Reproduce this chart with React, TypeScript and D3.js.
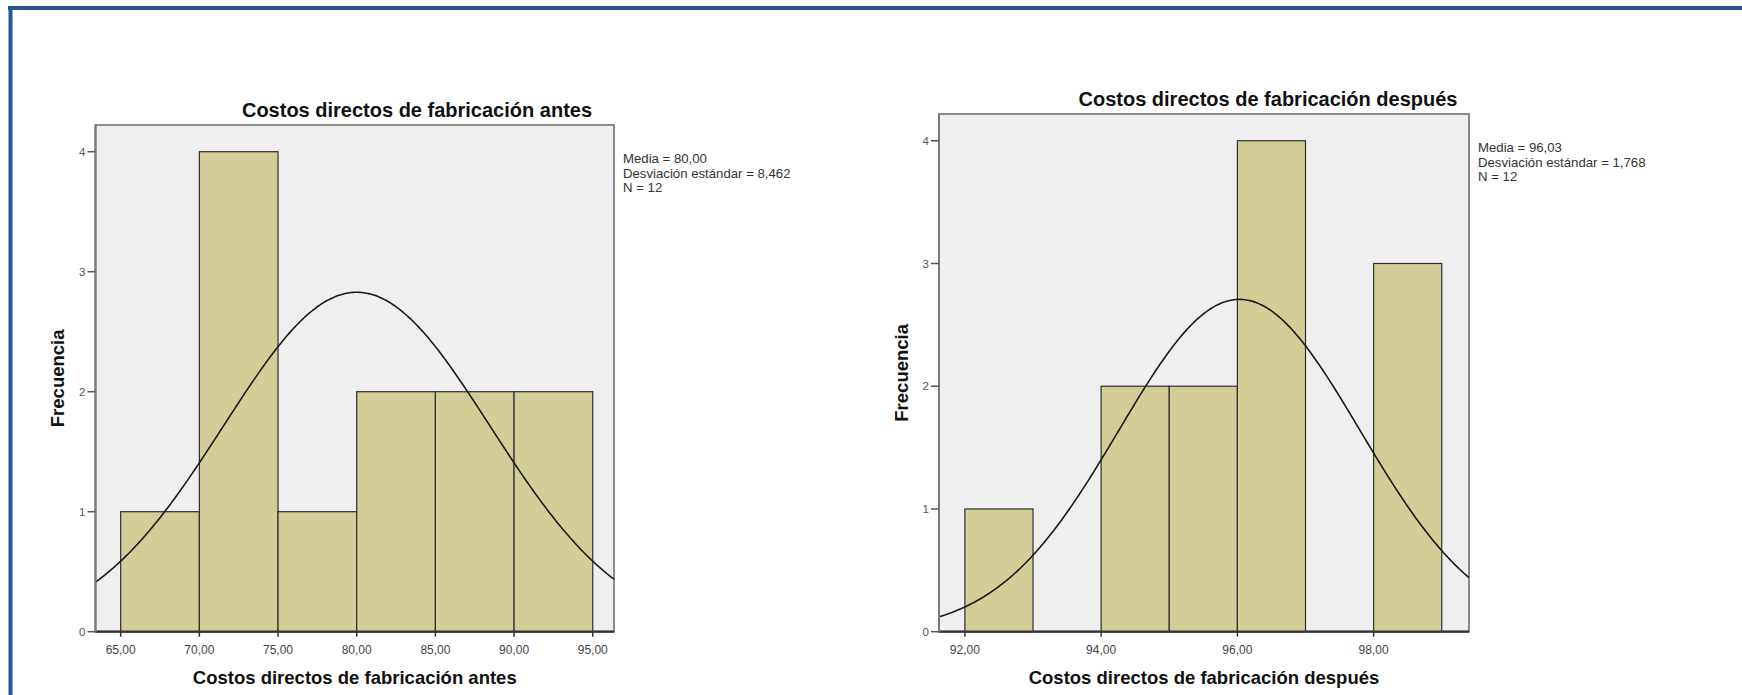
import React from "react";
import * as d3 from "d3";

// Histogram data: bin starts and frequencies
const antesBinStarts = [65, 70, 75, 80, 85, 90];
const antesCounts = [1, 4, 1, 2, 2, 2];
const antesBinWidth = 5;
const antesTicks = [65, 70, 75, 80, 85, 90, 95];

const despuesBinStarts = [92, 93, 94, 95, 96, 97, 98];
const despuesCounts = [1, 0, 2, 2, 4, 0, 3];
const despuesBinWidth = 1;
const despuesTicks = [92, 94, 96, 98];

const yTicks = [0, 1, 2, 3, 4];

// Summary statistics
const antesStats = { mean: 80.0, sd: 8.462, n: 12 };
const despuesStats = { mean: 96.03, sd: 1.768, n: 12 };

const titles = [
  "Costos directos de fabricación antes",
  "Costos directos de fabricación después",
];

const FONT = "Arial, 'Liberation Sans', Helvetica, sans-serif";
const fmt = (v: number, d: number) => v.toFixed(d).replace(".", ",");

type PanelProps = {
  title: string;
  binStarts: number[];
  counts: number[];
  binWidth: number;
  ticks: number[];
  stats: { mean: number; sd: number; n: number };
  x0: number;
  x1: number;
  top: number;
  xDomain: [number, number];
  yMax: number;
  titleX: number;
};

const BOTTOM = 631.7;

function Panel(p: PanelProps) {
  const x = d3.scaleLinear().domain(p.xDomain).range([p.x0, p.x1]);
  const y = d3.scaleLinear().domain([0, p.yMax]).range([BOTTOM, p.top]);
  const pdf = (v: number) =>
    (p.stats.n * p.binWidth) / (p.stats.sd * Math.sqrt(2 * Math.PI)) *
    Math.exp(-0.5 * ((v - p.stats.mean) / p.stats.sd) ** 2);
  const pts = d3.range(0, 301).map((i) => p.xDomain[0] + (i / 300) * (p.xDomain[1] - p.xDomain[0]));
  const curve = d3
    .line<number>()
    .x((v) => x(v))
    .y((v) => y(pdf(v)))
    .curve(d3.curveBasis)(pts);
  const midX = (p.x0 + p.x1) / 2;
  const midY = (p.top + BOTTOM) / 2;
  return (
    <g>
      <text x={p.titleX} y={p.top - 8} textAnchor="middle" fontFamily={FONT} fontWeight="bold" fontSize={20} fill="#111">
        {p.title}
      </text>
      <rect x={p.x0} y={p.top} width={p.x1 - p.x0} height={BOTTOM - p.top} fill="#efefef" stroke="#8a8a8a" strokeWidth={2} />
      {p.binStarts.map((s, i) =>
        p.counts[i] > 0 ? (
          <rect
            key={i}
            x={x(s)}
            y={y(p.counts[i])}
            width={x(s + p.binWidth) - x(s)}
            height={BOTTOM - y(p.counts[i])}
            fill="#d3ce98"
            stroke="#2e2e2e"
            strokeWidth={1.2}
          />
        ) : null
      )}
      <path d={curve || ""} fill="none" stroke="#1a1a1a" strokeWidth={1.6} />
      <line x1={p.x0} x2={p.x1} y1={BOTTOM} y2={BOTTOM} stroke="#333" strokeWidth={2.2} />
      <line x1={p.x0} x2={p.x0} y1={p.top} y2={BOTTOM} stroke="#7a7a7a" strokeWidth={2} />
      {yTicks.map((t) => (
        <g key={t}>
          <line x1={p.x0 - 8} x2={p.x0} y1={y(t)} y2={y(t)} stroke="#555" strokeWidth={1.5} />
          <text x={p.x0 - 10} y={y(t)} dy="0.36em" textAnchor="end" fontFamily={FONT} fontSize={11.5} fill="#555">
            {t}
          </text>
        </g>
      ))}
      {p.ticks.map((t) => (
        <g key={t}>
          <line x1={x(t)} x2={x(t)} y1={BOTTOM} y2={BOTTOM + 5} stroke="#333" strokeWidth={1.5} />
          <text x={x(t)} y={654} textAnchor="middle" fontFamily={FONT} fontSize={12} fill="#444">
            {fmt(t, 2)}
          </text>
        </g>
      ))}
      <text x={midX} y={684} textAnchor="middle" fontFamily={FONT} fontWeight="bold" fontSize={18.5} fill="#111">
        {p.title}
      </text>
      <text
        transform={`translate(${p.x0 - 31.5},${midY}) rotate(-90)`}
        textAnchor="middle"
        fontFamily={FONT}
        fontWeight="bold"
        fontSize={18.5}
        fill="#111"
      >
        Frecuencia
      </text>
      <g fontFamily={FONT} fontSize={13.2} fill="#333">
        <text x={p.x1 + 9} y={p.top + 38}>{`Media = ${fmt(p.stats.mean, 2)}`}</text>
        <text x={p.x1 + 9} y={p.top + 52.5}>{`Desviación estándar = ${fmt(p.stats.sd, 3)}`}</text>
        <text x={p.x1 + 9} y={p.top + 67}>{`N = ${p.stats.n}`}</text>
      </g>
    </g>
  );
}

export default function App() {
  return (
    <svg
      width={1742}
      height={695}
      style={{ position: "absolute", left: 0, top: 0, background: "#fff" }}
    >
      <rect x={0} y={0} width={1742} height={695} fill="#fff" />
      <Panel
        title={titles[0]}
        binStarts={antesBinStarts}
        counts={antesCounts}
        binWidth={antesBinWidth}
        ticks={antesTicks}
        stats={antesStats}
        x0={95.5}
        x1={614}
        top={125}
        xDomain={[63.4, 96.35]}
        yMax={4.2225}
        titleX={417}
      />
      <Panel
        title={titles[1]}
        binStarts={despuesBinStarts}
        counts={despuesCounts}
        binWidth={despuesBinWidth}
        ticks={despuesTicks}
        stats={despuesStats}
        x0={939}
        x1={1469}
        top={114}
        xDomain={[91.62, 99.4]}
        yMax={4.218}
        titleX={1268}
      />
      <line x1={8} x2={1742} y1={8} y2={8} stroke="#2b5593" strokeWidth={4} />
      <line x1={10.5} x2={10.5} y1={6} y2={695} stroke="#2b5593" strokeWidth={4} />
    </svg>
  );
}
